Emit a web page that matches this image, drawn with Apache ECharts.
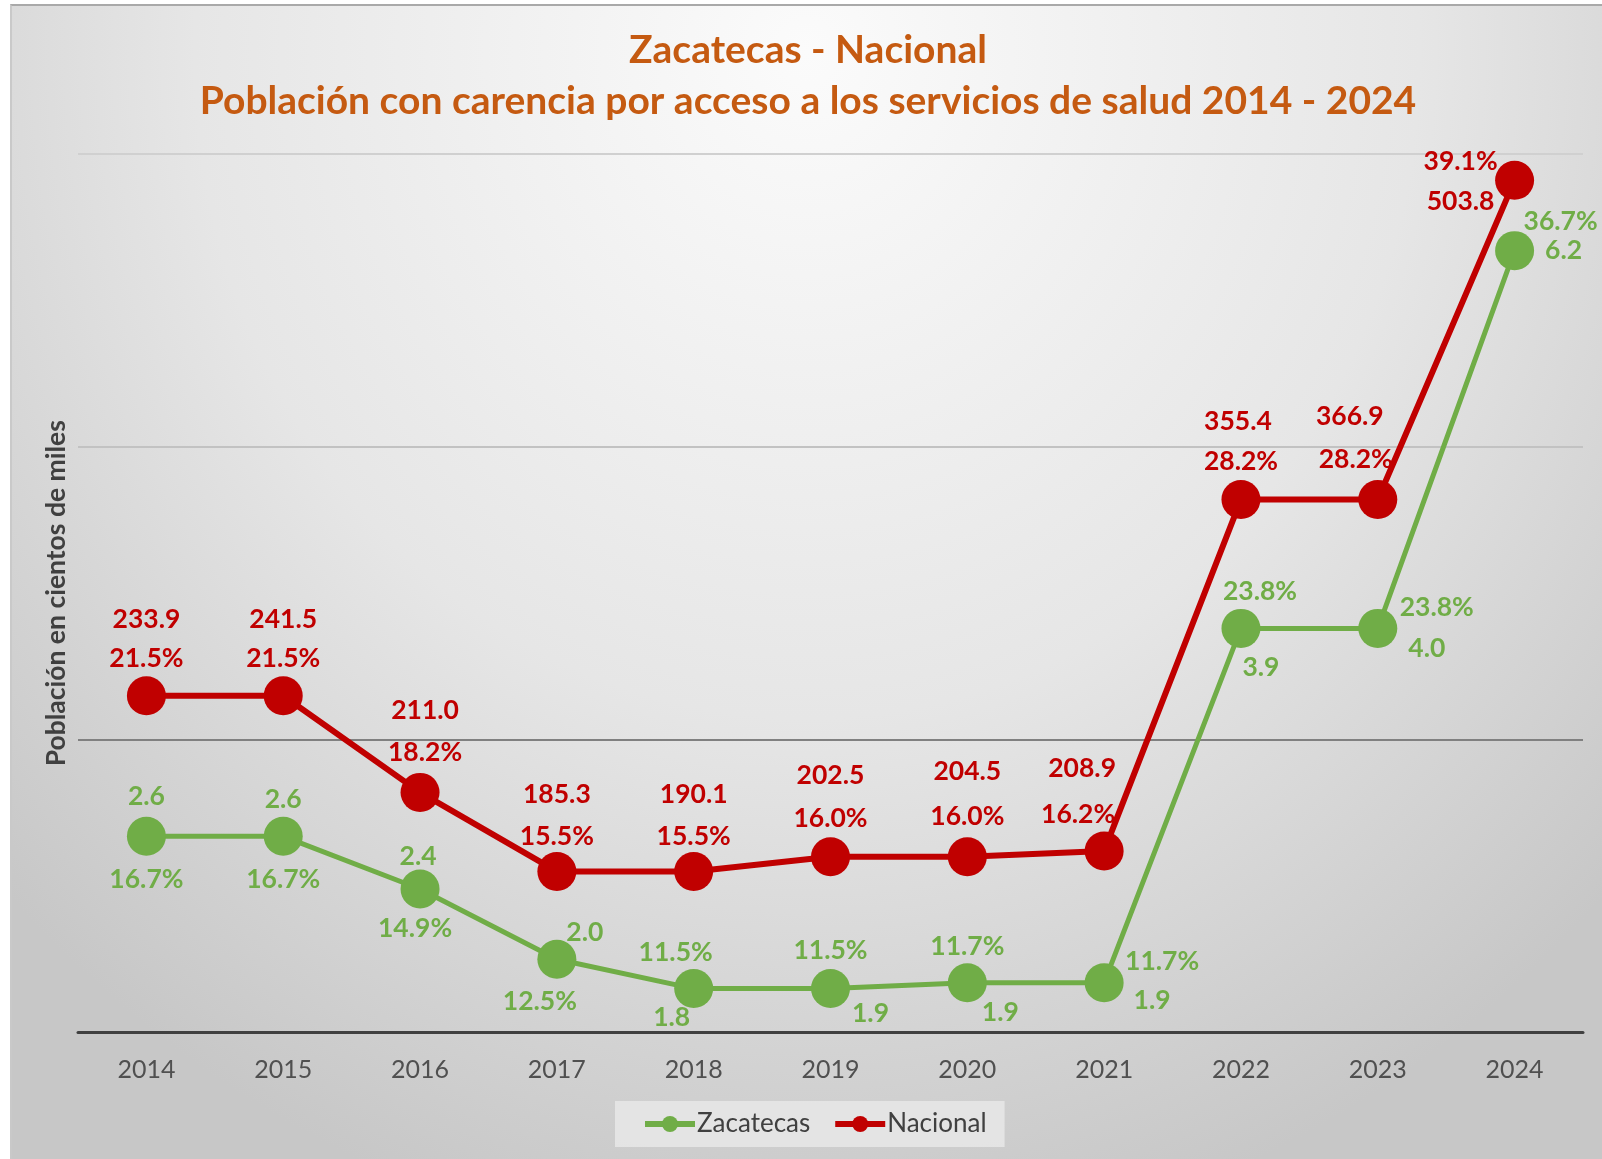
<!DOCTYPE html>
<html>
<head>
<meta charset="utf-8">
<script src="https://cdn.jsdelivr.net/npm/echarts@6/dist/echarts.min.js"></script>
<style>
  html, body { margin: 0; padding: 0; background: #ffffff; }
  #bg { position: absolute; left: 10px; top: 4px; width: 1592px; height: 1155px;
        box-sizing: border-box; border-top: 2px solid #a9a9a9; border-left: 2px solid #c9c9c9;
        background: radial-gradient(ellipse 70% 105% at 50% 4%, #fbfbfb 0%, #e6e6e6 55%, #c7c7c7 100%); }
  #chart { position: absolute; left: 0; top: 0; width: 1602px; height: 1159px; }
</style>
</head>
<body>
<div id="bg"></div>
<div id="chart"></div>
<script>
// ---------- data ----------
const years = ['2014', '2015', '2016', '2017', '2018', '2019', '2020', '2021', '2022', '2023', '2024'];
const zacPct = [16.7, 16.7, 14.9, 12.5, 11.5, 11.5, 11.7, 11.7, 23.8, 23.8, 36.7];
const zacVal = [2.6, 2.6, 2.4, 2.0, 1.8, 1.9, 1.9, 1.9, 3.9, 4.0, 6.2];
const nacPct = [21.5, 21.5, 18.2, 15.5, 15.5, 16.0, 16.0, 16.2, 28.2, 28.2, 39.1];
const nacVal = [233.9, 241.5, 211.0, 185.3, 190.1, 202.5, 204.5, 208.9, 355.4, 366.9, 503.8];
const titleLines = ['Zacatecas - Nacional', 'Población con carencia por acceso a los servicios de salud 2014 - 2024'];
const yAxisName = 'Población en cientos de miles';

// ---------- label layout (offsets from each point, px) ----------
const nacValOff = [[0,-76],[0,-76],[5,-82],[0,-77],[0,-77],[0,-81],[0,-85],[-22,-82],[-3,-78],[-28,-83],[-54,21]];
const nacPctOff = [[0,-37],[0,-37],[5,-40],[0,-35],[0,-35],[0,-38],[0,-40],[-26,-36],[0,-38],[-22,-40],[-54,-19]];
const zacValOff = [[0,-40],[0,-37],[-2,-33],[28,-27],[-22,29],[40,25],[33,30],[48,18],[20,39],[49,20],[49,0]];
const zacPctOff = [[0,43],[0,43],[-5,39],[-17,42],[-18,-36],[0,-38],[0,-36],[58,-21],[19,-37],[59,-21],[46,-29]];

const RED = '#C00000';
const GREEN = '#70AD47';
const FONT = 'Lato, "Open Sans", sans-serif';

function labelData(values, offsets, color, fmt) {
  return values.map((v, i) => ({
    value: v,
    label: {
      show: true, position: 'inside', offset: offsets[i],
      formatter: fmt(i), color: color, fontFamily: FONT, fontWeight: 'bold', fontSize: 26.5
    }
  }));
}

const chart = echarts.init(document.getElementById('chart'), null, { renderer: 'canvas' });
const option = {
  backgroundColor: 'transparent',
  animation: false,
  title: {
    text: titleLines.join('\n'),
    left: 808, top: 25, textAlign: 'center', padding: 0,
    textStyle: { color: '#C55A11', fontFamily: FONT, fontWeight: 'bold', fontSize: 39, lineHeight: 51 }
  },
  legend: {
    data: ['Zacatecas', 'Nacional'],
    left: 615, top: 1101,
    padding: [10, 18, 10, 27],
    backgroundColor: 'rgba(235,235,235,0.75)',
    itemWidth: 50, itemHeight: 20, itemGap: 22,
    lineStyle: { width: 6 },
    textStyle: { color: '#404040', fontFamily: FONT, fontSize: 26, padding: [0, 0, 0, -3] }
  },
  grid: { left: 78, right: 19, top: 154, bottom: 126.5, containLabel: false },
  xAxis: {
    type: 'category', data: years, boundaryGap: true,
    axisLine: { show: true, lineStyle: { color: '#404040', width: 3 } },
    axisTick: { show: false },
    axisLabel: { color: '#505050', fontFamily: FONT, fontSize: 25, margin: 25 }
  },
  yAxis: {
    type: 'value', min: 10, max: 40, interval: 10,
    name: yAxisName, nameLocation: 'middle', nameGap: 8,
    nameTextStyle: { color: '#404040', fontFamily: FONT, fontWeight: 'bold', fontSize: 26.5 },
    axisLine: { show: false }, axisTick: { show: false }, axisLabel: { show: false },
    splitLine: { show: true, lineStyle: { color: ['#444444', '#808080', '#c2c2c2', '#d0d0d0'], width: 2 } }
  },
  series: [
    {
      name: 'Zacatecas', type: 'line', z: 3,
      data: labelData(zacPct, zacPctOff, GREEN, i => zacPct[i].toFixed(1) + '%'),
      symbol: 'circle', symbolSize: 39,
      lineStyle: { color: GREEN, width: 5 }, itemStyle: { color: GREEN },
      emphasis: { disabled: true }
    },
    {
      name: 'ZacatecasValor', type: 'line', z: 4,
      data: labelData(zacPct, zacValOff, GREEN, i => zacVal[i].toFixed(1)),
      symbol: 'circle', symbolSize: 2,
      lineStyle: { opacity: 0 }, itemStyle: { color: 'rgba(0,0,0,0)' },
      emphasis: { disabled: true }, silent: true
    },
    {
      name: 'Nacional', type: 'line', z: 3,
      data: labelData(nacPct, nacPctOff, RED, i => nacPct[i].toFixed(1) + '%'),
      symbol: 'circle', symbolSize: 39,
      lineStyle: { color: RED, width: 6 }, itemStyle: { color: RED },
      emphasis: { disabled: true }
    },
    {
      name: 'NacionalValor', type: 'line', z: 4,
      data: labelData(nacPct, nacValOff, RED, i => nacVal[i].toFixed(1)),
      symbol: 'circle', symbolSize: 2,
      lineStyle: { opacity: 0 }, itemStyle: { color: 'rgba(0,0,0,0)' },
      emphasis: { disabled: true }, silent: true
    }
  ]
};
chart.setOption(option);
</script>
</body>
</html>
